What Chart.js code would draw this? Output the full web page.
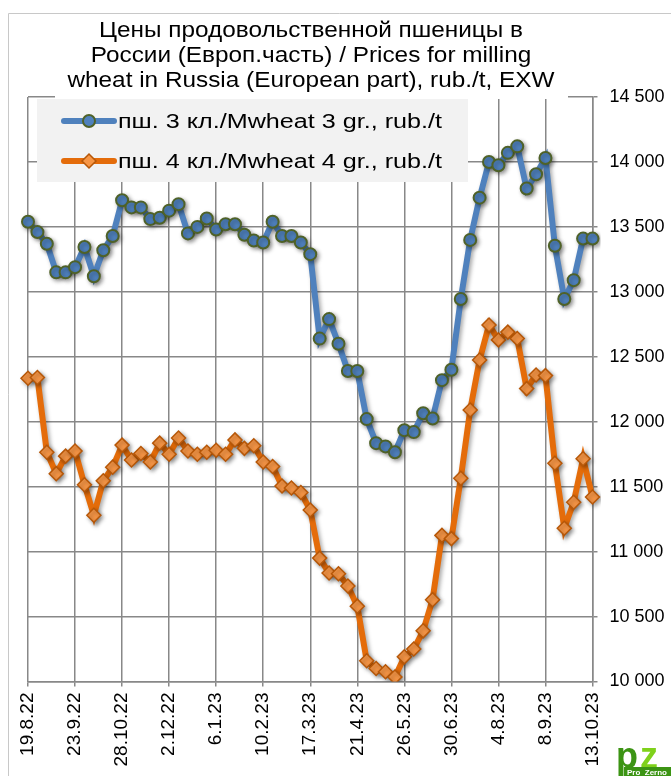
<!DOCTYPE html>
<html>
<head>
<meta charset="utf-8">
<script src="https://cdn.jsdelivr.net/npm/chart.js@4/dist/chart.umd.min.js"></script>
<style>
html,body{margin:0;padding:0;background:#fff;}
#wrap{width:671px;height:776px;position:relative;}
</style>
</head>
<body>
<div id="wrap"><canvas id="c" width="671" height="776"></canvas></div>
<script>
const titleLines = [
  "Цены продовольственной пшеницы в",
  "России (Европ.часть) / Prices for milling",
  "wheat in Russia (European part), rub./t, EXW"
];
const seriesNames = [
  "пш. 3 кл./Mwheat 3 gr., rub./t",
  "пш. 4 кл./Mwheat 4 gr., rub./t"
];
const dates = [
  "19.8.22","26.8.22","2.9.22","9.9.22","16.9.22","23.9.22","30.9.22","7.10.22","14.10.22","21.10.22",
  "28.10.22","4.11.22","11.11.22","18.11.22","25.11.22","2.12.22","9.12.22","16.12.22","23.12.22","30.12.22",
  "6.1.23","13.1.23","20.1.23","27.1.23","3.2.23","10.2.23","17.2.23","24.2.23","3.3.23","10.3.23",
  "17.3.23","24.3.23","31.3.23","7.4.23","14.4.23","21.4.23","28.4.23","5.5.23","12.5.23","19.5.23",
  "26.5.23","2.6.23","9.6.23","16.6.23","23.6.23","30.6.23","7.7.23","14.7.23","21.7.23","28.7.23",
  "4.8.23","11.8.23","18.8.23","25.8.23","1.9.23","8.9.23","15.9.23","22.9.23","29.9.23","6.10.23",
  "13.10.23"
];
const wheat3 = [
  13540,13460,13370,13150,13150,13190,13345,13120,13320,13430,
  13705,13650,13650,13560,13570,13625,13675,13450,13500,13565,
  13480,13520,13520,13440,13395,13380,13540,13430,13430,13380,
  13290,12640,12790,12600,12390,12390,12020,11835,11810,11765,
  11935,11920,12065,12025,12320,12400,12945,13400,13725,14000,
  13975,14070,14120,13795,13905,14030,13355,12945,13090,13410,
  13410
];
const wheat4 = [
  12335,12340,11765,11600,11735,11775,11515,11280,11545,11650,
  11820,11705,11755,11690,11835,11750,11875,11775,11750,11765,
  11780,11750,11860,11795,11815,11690,11655,11505,11490,11455,
  11320,10950,10835,10830,10735,10580,10160,10100,10075,10035,
  10190,10250,10390,10630,11125,11100,11565,12090,12475,12745,
  12630,12690,12640,12255,12360,12355,11680,11180,11380,11715,
  11420
];
const yMin = 10000, yMax = 14500, yStep = 500;
const labelEvery = 5;

const FONT = "'Liberation Sans', Arial, sans-serif";
const GRID = '#888888';
const BLUE = '#4f81bd', BLUE_BORDER = '#4f6228';
const ORANGE = '#e46c0a', ORANGE_FILL = '#f79646', ORANGE_BORDER = '#b65708';

function stretchText(ctx, text, x, y, sx, align) {
  ctx.save();
  ctx.translate(x, y);
  ctx.scale(sx, 1);
  ctx.textAlign = align;
  ctx.fillText(text, 0, 0);
  ctx.restore();
}

const shadowPlugin = {
  id: 'shadow',
  beforeDatasetDraw(chart) {
    const ctx = chart.ctx;
    ctx.save();
    ctx.shadowColor = 'rgba(0,0,0,0.35)';
    ctx.shadowBlur = 4;
    ctx.shadowOffsetX = 2;
    ctx.shadowOffsetY = 2;
  },
  afterDatasetDraw(chart) { chart.ctx.restore(); }
};

const decorPlugin = {
  id: 'decor',
  beforeDraw(chart) {
    const ctx = chart.ctx;
    ctx.save();
    ctx.fillStyle = '#fff';
    ctx.fillRect(0, 0, chart.width, chart.height);
    ctx.strokeStyle = '#c8c8c8';
    ctx.lineWidth = 1;
    ctx.beginPath();
    ctx.moveTo(8.5, 776); ctx.lineTo(8.5, 13.5); ctx.lineTo(671, 13.5);
    ctx.stroke();
    ctx.restore();
  },
  afterDraw(chart) {
    const ctx = chart.ctx;
    ctx.save();
    // title background + text
    ctx.fillStyle = '#fff';
    ctx.fillRect(55, 86, 513, 13);
    ctx.fillStyle = '#000';
    ctx.font = '22px ' + FONT;
    ctx.textBaseline = 'middle';
    const w0 = ctx.measureText(titleLines[0]).width;
    const sxT = 424 / w0;
    titleLines.forEach((t, i) => stretchText(ctx, t, 311, 31 + i * 25, sxT, 'center'));
    // legend
    ctx.fillStyle = '#f2f2f2';
    ctx.fillRect(37, 99, 431, 83);
    const rows = [
      {y: 121, color: BLUE, style: 'circle', fill: BLUE, border: BLUE_BORDER, r: 6, bw: 2},
      {y: 161, color: ORANGE, style: 'rectRot', fill: ORANGE_FILL, border: ORANGE_BORDER, r: 7, bw: 1.5}
    ];
    ctx.font = '20px ' + FONT;
    const sxL = 324 / ctx.measureText(seriesNames[0]).width;
    rows.forEach((row, i) => {
      ctx.strokeStyle = row.color;
      ctx.lineWidth = 6;
      ctx.lineCap = 'round';
      ctx.beginPath();
      ctx.moveTo(64, row.y); ctx.lineTo(114, row.y);
      ctx.stroke();
      ctx.fillStyle = row.fill;
      ctx.strokeStyle = row.border;
      ctx.lineWidth = row.bw;
      Chart.helpers.drawPoint(ctx, {pointStyle: row.style, radius: row.r, borderWidth: row.bw, rotation: 0}, 89, row.y);
      ctx.fillStyle = '#000';
      ctx.font = '20px ' + FONT;
      ctx.textBaseline = 'middle';
      stretchText(ctx, seriesNames[i], 118, row.y + 1, sxL, 'left');
    });
    // logo
    ctx.textBaseline = 'alphabetic';
    ctx.textAlign = 'left';
    ctx.font = 'bold 36px ' + FONT;
    ctx.fillStyle = '#3c9414';
    ctx.fillText('p', 616, 768);
    ctx.fillStyle = '#7fd11b';
    ctx.fillText('z', 640, 768);
    ctx.fillStyle = '#3c9414';
    ctx.fillRect(624, 767, 47, 9);
    ctx.fillStyle = '#fff';
    ctx.font = 'bold 8px ' + FONT;
    ctx.fillText('Pro  Zerno', 627, 775);
    ctx.restore();
  }
};

new Chart(document.getElementById('c'), {
  type: 'line',
  data: {
    labels: dates,
    datasets: [
      {
        label: seriesNames[0], data: wheat3,
        borderColor: BLUE, borderWidth: 6,
        pointStyle: 'circle', pointRadius: 6, pointBorderWidth: 2,
        pointBackgroundColor: BLUE, pointBorderColor: BLUE_BORDER,
        tension: 0, order: 2
      },
      {
        label: seriesNames[1], data: wheat4,
        borderColor: ORANGE, borderWidth: 6,
        pointStyle: 'rectRot', pointRadius: 7, pointBorderWidth: 1.5,
        pointBackgroundColor: ORANGE_FILL, pointBorderColor: ORANGE_BORDER,
        tension: 0, order: 1
      }
    ]
  },
  options: {
    responsive: false,
    animation: false,
    events: [],
    layout: {padding: {left: 28, top: 97, right: 0, bottom: 0}},
    plugins: {
      legend: {display: false},
      title: {display: false},
      tooltip: {enabled: false}
    },
    scales: {
      x: {
        type: 'category',
        offset: false,
        afterFit(s) { s.height = 94.5; },
        grid: {
          color: c => (c.index % labelEvery === 0 ? GRID : 'rgba(0,0,0,0)'),
          lineWidth: 1.5, tickLength: 5, drawOnChartArea: true
        },
        border: {display: true, color: GRID, width: 1.5},
        ticks: {
          autoSkip: false, minRotation: 90, maxRotation: 90, padding: 6,
          color: '#000', font: {family: FONT, size: 19},
          callback(v, i) { return i % labelEvery === 0 ? dates[i] : ''; }
        }
      },
      y: {
        position: 'right',
        min: yMin, max: yMax,
        afterFit(s) { s.width = 78.5; },
        grid: {color: GRID, lineWidth: 1.5, tickLength: 5},
        border: {display: true, color: GRID, width: 1.5},
        ticks: {
          stepSize: yStep, padding: 12, color: '#000',
          font: {family: FONT, size: 18},
          callback(v) { return String(v).replace(/\B(?=(\d{3})+(?!\d))/g, ' '); }
        }
      }
    }
  },
  plugins: [decorPlugin, shadowPlugin]
});
</script>
</body>
</html>
